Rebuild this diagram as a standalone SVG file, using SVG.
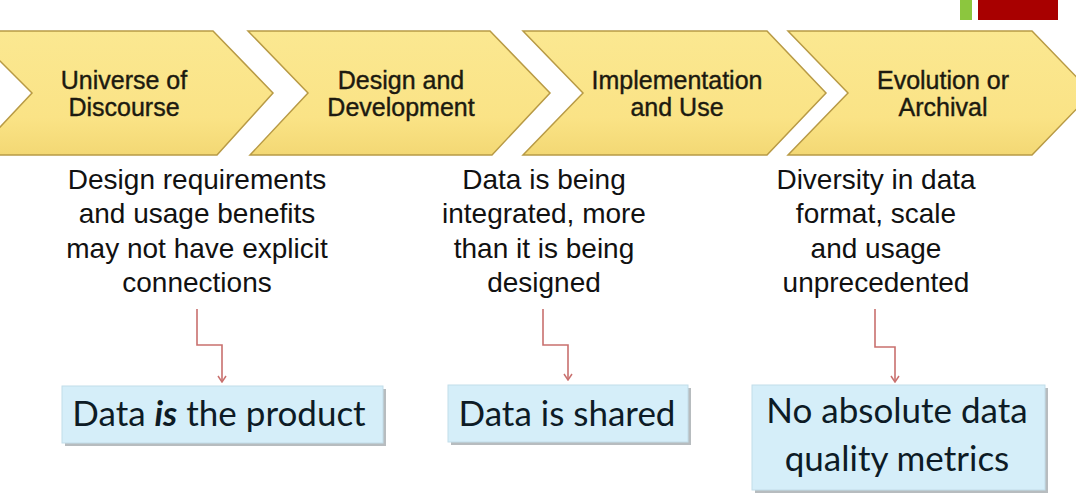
<svg xmlns="http://www.w3.org/2000/svg" width="1076" height="501" viewBox="0 0 1076 501">
<style>
.chev{fill:url(#cg);stroke:#b89a45;stroke-width:1.5}
.cl{font-family:"Liberation Sans",Arial,sans-serif;font-size:25px;fill:#1c1a10;text-anchor:middle;stroke:#1c1a10;stroke-width:0.4}
.desc{font-family:"Liberation Sans",Arial,sans-serif;font-size:28px;fill:#111;text-anchor:middle}
.box{fill:#d5eef9;stroke:#c2dde9;stroke-width:1}
.shadow{fill:#b7bcbf}
.bt{font-family:Lato,"Open Sans",sans-serif;font-size:35px;fill:#0d1b26;text-anchor:middle}
.conn{fill:none;stroke:#c9706e;stroke-width:1.6}
</style>
<defs>
<linearGradient id="cg" x1="0" y1="0" x2="0" y2="1">
<stop offset="0" stop-color="#fbe891"/>
<stop offset="0.7" stop-color="#fae386"/>
<stop offset="1" stop-color="#f3d874"/>
</linearGradient>
<marker id="ah" viewBox="0 0 10 10" refX="9" refY="5" markerWidth="10" markerHeight="10" orient="auto" markerUnits="userSpaceOnUse">
<path d="M3,1 L9,5 L3,9" fill="none" stroke="#c9706e" stroke-width="1.5"/>
</marker>
</defs>
<rect width="1076" height="501" fill="#ffffff"/>
<rect x="960" y="0" width="12" height="20" fill="#8cc63e"/>
<rect x="978" y="0" width="80" height="20" fill="#a80000"/>

<g id="chevron1">
<polygon class="chev" points="-30,31 213,31 273,93 217,155 -26,155 32,93"/>
<text class="cl" x="124" y="89">Universe of</text>
<text class="cl" x="124" y="116">Discourse</text>
</g>
<g id="chevron2">
<polygon class="chev" points="248,31 490,31 550,93 492,155 250,155 308,93"/>
<text class="cl" x="401" y="89">Design and</text>
<text class="cl" x="401" y="116">Development</text>
</g>
<g id="chevron3">
<polygon class="chev" points="523,31 767,31 826,93 767,155 523,155 583,93"/>
<text class="cl" x="677" y="89">Implementation</text>
<text class="cl" x="677" y="116">and Use</text>
</g>
<g id="chevron4">
<polygon class="chev" points="788,31 1032,31 1092,93 1032,155 788,155 848,93"/>
<text class="cl" x="943" y="89">Evolution or</text>
<text class="cl" x="943" y="116">Archival</text>
</g>

<g id="desc1">
<text class="desc" x="197" y="189">Design requirements</text>
<text class="desc" x="197" y="223">and usage benefits</text>
<text class="desc" x="197" y="258">may not have explicit</text>
<text class="desc" x="197" y="292">connections</text>
</g>
<g id="desc2">
<text class="desc" x="544" y="189">Data is being</text>
<text class="desc" x="544" y="223">integrated, more</text>
<text class="desc" x="544" y="258">than it is being</text>
<text class="desc" x="544" y="292">designed</text>
</g>
<g id="desc3">
<text class="desc" x="876" y="189">Diversity in data</text>
<text class="desc" x="876" y="223">format, scale</text>
<text class="desc" x="876" y="258">and usage</text>
<text class="desc" x="876" y="292">unprecedented</text>
</g>

<g id="connectors">
<path class="conn" d="M197,309 V345 H222 V382" marker-end="url(#ah)"/>
<path class="conn" d="M543,309 V345 H568 V380" marker-end="url(#ah)"/>
<path class="conn" d="M875,309 V347 H895 V382" marker-end="url(#ah)"/>
</g>

<g id="box1">
<rect class="shadow" x="65" y="389" width="321" height="57"/>
<rect class="box" x="62" y="386" width="321" height="57"/>
<text class="bt" x="219" y="426">Data <tspan font-weight="bold" font-style="italic">is</tspan> the product</text>
</g>
<g id="box2">
<rect class="shadow" x="451" y="388" width="240" height="57"/>
<rect class="box" x="448" y="385" width="240" height="57"/>
<text class="bt" x="567" y="426">Data is shared</text>
</g>
<g id="box3">
<rect class="shadow" x="755" y="388" width="293" height="105"/>
<rect class="box" x="752" y="385" width="293" height="105"/>
<text class="bt" x="897" y="423">No absolute data</text>
<text class="bt" x="897" y="471">quality metrics</text>
</g>
</svg>
